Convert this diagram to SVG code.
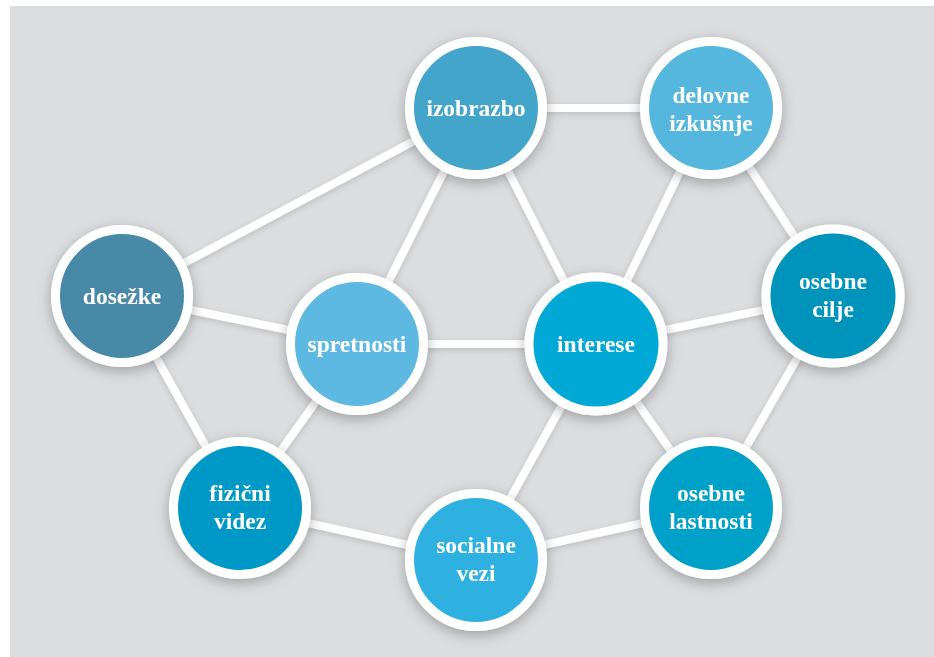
<svg xmlns="http://www.w3.org/2000/svg" width="934" height="657" viewBox="0 0 934 657">
  <style>
    .edge { stroke: #ffffff; stroke-width: 8; stroke-linecap: butt; fill: none; }
    .ring { stroke: #ffffff; stroke-width: 9; }
    .label { font-family: "Liberation Serif", "DejaVu Serif", serif; font-weight: bold; font-size: 23.5px; fill: #ffffff; text-anchor: middle; }
  </style>
  <defs>
    <filter id="shadow" x="-40%" y="-40%" width="180%" height="180%">
      <feDropShadow dx="0" dy="4" stdDeviation="7" flood-color="#000000" flood-opacity="0.28"/>
    </filter>
    <filter id="lineShadow" x="-10%" y="-10%" width="120%" height="120%">
      <feDropShadow dx="0" dy="2" stdDeviation="3" flood-color="#000000" flood-opacity="0.15"/>
    </filter>
  </defs>

  <!-- panel -->
  <rect x="10" y="6" width="924" height="651" fill="#dcdddf"/>

  <!-- connectors -->
  <g id="connectors" class="edge" filter="url(#lineShadow)">
    <line x1="476" y1="108" x2="711" y2="108"/>
    <line x1="476" y1="108" x2="122" y2="296"/>
    <line x1="476" y1="108" x2="357" y2="344"/>
    <line x1="476" y1="108" x2="596" y2="344"/>
    <line x1="711" y1="108" x2="596" y2="344"/>
    <line x1="711" y1="108" x2="833" y2="296"/>
    <line x1="122" y1="296" x2="357" y2="344"/>
    <line x1="122" y1="296" x2="240" y2="508"/>
    <line x1="357" y1="344" x2="596" y2="344"/>
    <line x1="357" y1="344" x2="240" y2="508"/>
    <line x1="596" y1="344" x2="833" y2="296"/>
    <line x1="596" y1="344" x2="476" y2="560"/>
    <line x1="596" y1="344" x2="711" y2="508"/>
    <line x1="833" y1="296" x2="711" y2="508"/>
    <line x1="240" y1="508" x2="476" y2="560"/>
    <line x1="476" y1="560" x2="711" y2="508"/>
  </g>

  <!-- nodes -->
  <g id="izobrazbo" filter="url(#shadow)">
    <circle class="ring" cx="476" cy="108" r="66.5" fill="#42a5c9"/>
    <text class="label" x="476" y="116">izobrazbo</text>
  </g>
  <g id="delovne-izkusnje" filter="url(#shadow)">
    <circle class="ring" cx="711" cy="108" r="66.5" fill="#55b7de"/>
    <text class="label" x="711" y="103">delovne</text>
    <text class="label" x="711" y="131">izkušnje</text>
  </g>
  <g id="dosezke" filter="url(#shadow)">
    <circle class="ring" cx="122" cy="296" r="66.5" fill="#4689a6"/>
    <text class="label" x="122" y="304">dosežke</text>
  </g>
  <g id="spretnosti" filter="url(#shadow)">
    <circle class="ring" cx="357" cy="344" r="66.5" fill="#5db9e1"/>
    <text class="label" x="357" y="352">spretnosti</text>
  </g>
  <g id="interese" filter="url(#shadow)">
    <circle class="ring" cx="596" cy="344" r="67" fill="#00a8d6"/>
    <text class="label" x="596" y="352">interese</text>
  </g>
  <g id="osebne-cilje" filter="url(#shadow)">
    <circle class="ring" cx="833" cy="296" r="67" fill="#0094bc"/>
    <text class="label" x="833" y="289">osebne</text>
    <text class="label" x="833" y="317">cilje</text>
  </g>
  <g id="fizicni-videz" filter="url(#shadow)">
    <circle class="ring" cx="240" cy="508" r="66.5" fill="#0099c7"/>
    <text class="label" x="240" y="501">fizični</text>
    <text class="label" x="240" y="529">videz</text>
  </g>
  <g id="socialne-vezi" filter="url(#shadow)">
    <circle class="ring" cx="476" cy="560" r="66.5" fill="#2db1e1"/>
    <text class="label" x="476" y="553">socialne</text>
    <text class="label" x="476" y="581">vezi</text>
  </g>
  <g id="osebne-lastnosti" filter="url(#shadow)">
    <circle class="ring" cx="711" cy="508" r="66.5" fill="#06a1c9"/>
    <text class="label" x="711" y="501">osebne</text>
    <text class="label" x="711" y="529">lastnosti</text>
  </g>
</svg>
